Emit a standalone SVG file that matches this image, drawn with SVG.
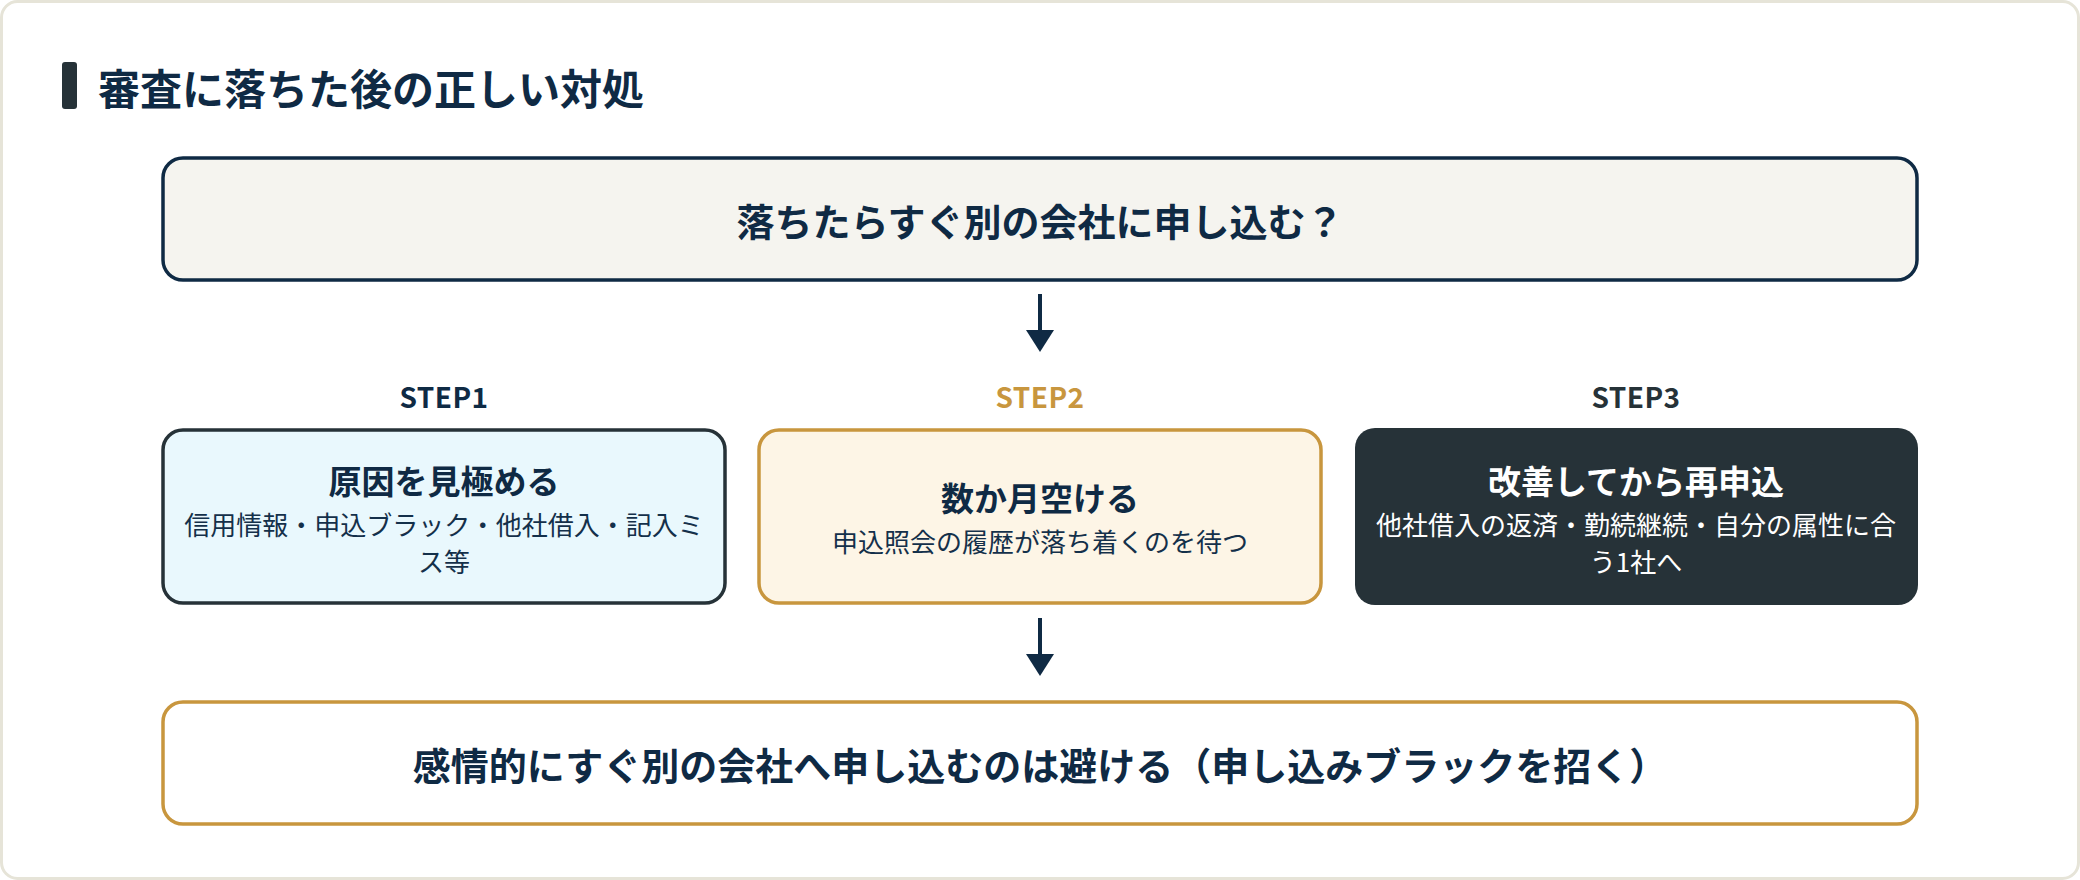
<svg xmlns="http://www.w3.org/2000/svg" width="2080" height="880" viewBox="0 0 2080 880">
  <style>
    text { font-family: "Noto Sans CJK JP", "Noto Sans", sans-serif; }
    .navy { fill: #0f2a44; }
    .bold { font-weight: 700; }
    .title { font-size: 42px; font-weight: 700; fill: #0f2a44; }
    .big { font-size: 38px; font-weight: 700; fill: #0f2a44; text-anchor: middle; }
    .step { font-size: 28px; font-weight: 700; text-anchor: middle; letter-spacing: 0.5px; }
    .head { font-size: 33px; font-weight: 700; text-anchor: middle; }
    .sub { font-size: 26px; font-weight: 400; text-anchor: middle; }
    .arrow-line { stroke: #0f2a44; stroke-width: 4; fill: none; }
    .arrow-head { fill: #0f2a44; }
  </style>

  <rect id="card" x="1.5" y="1.5" width="2077" height="877" rx="16" fill="#ffffff" stroke="#e6e4d8" stroke-width="3"/>

  <g id="title">
    <rect x="62" y="62" width="15" height="47" rx="3" fill="#263238"/>
    <text class="title" x="98" y="105">審査に落ちた後の正しい対処</text>
  </g>

  <g id="node-question">
    <rect x="163" y="158" width="1754" height="122" rx="20" fill="#f5f4ef" stroke="#0f2a44" stroke-width="3.5"/>
    <text class="big" x="1040" y="236">落ちたらすぐ別の会社に申し込む？</text>
  </g>

  <g id="step1">
    <text class="step" x="444" y="408" fill="#0f2a44">STEP1</text>
    <rect x="163" y="430" width="562" height="173" rx="20" fill="#e9f8fd" stroke="#263238" stroke-width="3.5"/>
    <text class="head" x="444" y="494" fill="#0f2a44">原因を見極める</text>
    <text class="sub" x="444" y="535" fill="#14304a">信用情報・申込ブラック・他社借入・記入ミ</text>
    <text class="sub" x="444" y="572" fill="#14304a">ス等</text>
  </g>

  <g id="step2">
    <text class="step" x="1040" y="408" fill="#c8963e">STEP2</text>
    <rect x="759" y="430" width="562" height="173" rx="20" fill="#fdf5e6" stroke="#c8963e" stroke-width="3.5"/>
    <text class="head" x="1040" y="511" fill="#0f2a44">数か月空ける</text>
    <text class="sub" x="1040" y="552" fill="#14304a">申込照会の履歴が落ち着くのを待つ</text>
  </g>

  <g id="step3">
    <text class="step" x="1636" y="408" fill="#263238">STEP3</text>
    <rect x="1355" y="428" width="563" height="177" rx="20" fill="#263238"/>
    <text class="head" x="1636" y="494" fill="#ffffff">改善してから再申込</text>
    <text class="sub" x="1636" y="535" fill="#ffffff">他社借入の返済・勤続継続・自分の属性に合</text>
    <text class="sub" x="1636" y="572" fill="#ffffff">う1社へ</text>
  </g>

  <g id="node-conclusion">
    <rect x="163" y="702" width="1754" height="122" rx="20" fill="#ffffff" stroke="#c8963e" stroke-width="3.5"/>
    <text class="big" x="1040" y="780">感情的にすぐ別の会社へ申し込むのは避ける（申し込みブラックを招く）</text>
  </g>

  <g id="connectors">
    <line class="arrow-line" x1="1040" y1="294" x2="1040" y2="332"/>
    <polygon class="arrow-head" points="1026,330 1054,330 1040,352"/>
    <line class="arrow-line" x1="1040" y1="618" x2="1040" y2="656"/>
    <polygon class="arrow-head" points="1026,654 1054,654 1040,676"/>
  </g>
</svg>
